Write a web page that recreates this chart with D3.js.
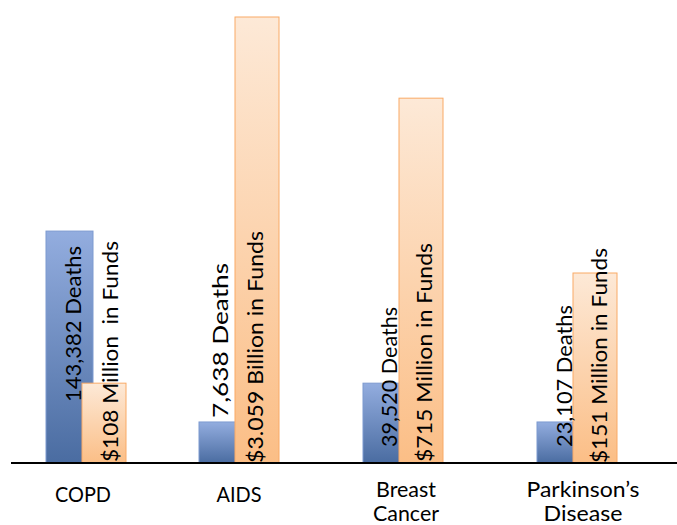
<!DOCTYPE html>
<html><head><meta charset="utf-8">
<script src="https://cdn.jsdelivr.net/npm/d3@7"></script>
<style>body{margin:0;background:#fff}</style></head>
<body><svg id="c" width="677" height="525"></svg>
<script>
// ---- data ----
const categories = ["COPD", "AIDS", "Breast Cancer", "Parkinson’s Disease"];
const categoryLines = [["COPD"], ["AIDS"], ["Breast", "Cancer"], ["Parkinson’s", "Disease"]];
const deathsLabels = ["143,382 Deaths", "7,638 Deaths", "39,520 Deaths", "23,107 Deaths"];
const fundsLabels = ["$108 Million  in Funds", "$3.059 Billion in Funds", "$715 Million in Funds", "$151 Million in Funds"];
// bar sizes as drawn in the picture (relative units, tallest bar = 100)
const deathsBar = [52.0, 9.2, 17.9, 9.2];
const fundsBar = [17.9, 100, 81.8, 42.6];

// ---- layout / style ----
const W = 677, H = 525, baseY = 463, topY = 17;
const svg = d3.select("#c");
const x = d3.scaleOrdinal().domain(categories).range([46, 199, 363, 537]);
const y = d3.scaleLinear().domain([0, 100]).range([baseY, topY]);
const blueW = 47, orangeOff = 36, orangeW = 44;
const deathsLift = [61, 45, 16, 16], deathsDx = [35, 29, 34, 35], deathsLen = [156, 155, 140, 142];
const fundsLift = [1, 0, 1, 0], fundsDx = [36, 28, 33, 34], fundsLen = [221, 232, 219, 215];
const catDx = [37, 40, 43, 46];
const catLen = [[56], [45], [60, 66], [113, 79]];

const defs = svg.append("defs");
const gb = defs.append("linearGradient").attr("id", "gb").attr("x1", 0).attr("y1", 0).attr("x2", 0).attr("y2", 1);
gb.append("stop").attr("offset", "0%").attr("stop-color", "#93addf");
gb.append("stop").attr("offset", "100%").attr("stop-color", "#4a6ca1");
const go = defs.append("linearGradient").attr("id", "go").attr("x1", 0).attr("y1", 0).attr("x2", 0).attr("y2", 1);
go.append("stop").attr("offset", "0%").attr("stop-color", "#fde9d7");
go.append("stop").attr("offset", "100%").attr("stop-color", "#fbbe86");
const sh = defs.append("filter").attr("id", "sh").attr("x", "-5%").attr("y", "-200%").attr("width", "110%").attr("height", "500%");
sh.append("feGaussianBlur").attr("stdDeviation", 1.5);

const font = "Lato, 'Open Sans', sans-serif";

categories.forEach((c, i) => {
  svg.append("rect").attr("x", x(c)).attr("y", y(deathsBar[i]))
    .attr("width", blueW).attr("height", baseY - y(deathsBar[i]))
    .attr("fill", "url(#gb)").attr("stroke", "#7d9ad0").attr("stroke-width", 1);
});
categories.forEach((c, i) => {
  svg.append("rect").attr("x", x(c) + orangeOff).attr("y", y(fundsBar[i]))
    .attr("width", orangeW).attr("height", baseY - y(fundsBar[i]))
    .attr("fill", "url(#go)").attr("stroke", "#f9aa66").attr("stroke-width", 1);
});

// axis line with soft shadow
svg.append("line").attr("x1", 12).attr("x2", W).attr("y1", baseY + 3).attr("y2", baseY + 3)
  .attr("stroke", "#999").attr("stroke-width", 2).attr("filter", "url(#sh)");
svg.append("line").attr("x1", 11).attr("x2", W).attr("y1", baseY).attr("y2", baseY)
  .attr("stroke", "#000").attr("stroke-width", 2);

// rotated value labels
categories.forEach((c, i) => {
  const dx = x(c) + deathsDx[i], dy = baseY - deathsLift[i];
  svg.append("text").attr("transform", `translate(${dx},${dy}) rotate(-90)`)
    .attr("font-family", font).attr("font-size", 22).attr("fill", "#000")
    .attr("textLength", deathsLen[i]).attr("lengthAdjust", "spacingAndGlyphs")
    .style("white-space", "pre").text(deathsLabels[i]);
  const fx = x(c) + orangeOff + fundsDx[i], fy = baseY - fundsLift[i];
  svg.append("text").attr("transform", `translate(${fx},${fy}) rotate(-90)`)
    .attr("font-family", font).attr("font-size", 22).attr("fill", "#000")
    .attr("textLength", fundsLen[i]).attr("lengthAdjust", "spacingAndGlyphs")
    .style("white-space", "pre").text(fundsLabels[i]);
});

// category labels
categories.forEach((c, i) => {
  const cx = x(c) + catDx[i];
  const lines = categoryLines[i];
  const y0 = lines.length === 1 ? 502 : 497;
  lines.forEach((l, k) => {
    svg.append("text").attr("text-anchor", "middle")
      .attr("x", cx).attr("y", y0 + k * 24)
      .attr("font-family", font).attr("font-size", 21).attr("fill", "#000")
      .attr("textLength", catLen[i][k]).attr("lengthAdjust", "spacingAndGlyphs")
      .text(l);
  });
});
</script></body></html>
